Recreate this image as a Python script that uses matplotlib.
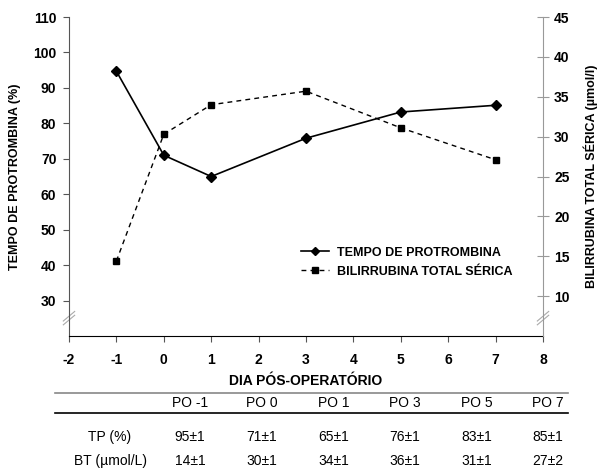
import matplotlib
matplotlib.use("Agg")
import matplotlib.pyplot as plt
from matplotlib.lines import Line2D
from matplotlib.legend_handler import HandlerLine2D

plt.rcParams['font.family'] = ['Liberation Sans', 'DejaVu Sans']
plt.rcParams['axes.unicode_minus'] = False

days = [-1, 0, 1, 3, 5, 7]
tp = [94.7, 71, 65, 75.8, 83.2, 85.1]
bt = [14.4, 30.3, 34.0, 35.7, 31.1, 27.1]

col_labels = ['PO -1', 'PO 0', 'PO 1', 'PO 3', 'PO 5', 'PO 7']
tp_table = ['95±1', '71±1', '65±1', '76±1', '83±1', '85±1']
bt_table = ['14±1', '30±1', '34±1', '36±1', '31±1', '27±2']
row_labels = ['TP (%)', 'BT (µmol/L)']


class LeftMarkerHandler(HandlerLine2D):
    # marker sits at the left end of the legend line
    def get_xdata(self, legend, xdescent, ydescent, width, height, fontsize):
        xdata, _ = super().get_xdata(legend, xdescent, ydescent, width, height, fontsize)
        return xdata, [xdata[0]]


fig = plt.figure(figsize=(6.01, 4.70), dpi=100)
ax = fig.add_axes([0.1148, 0.2851, 0.7887, 0.6787])
ax2 = ax.twinx()

l1, = ax.plot(days, tp, '-', color='black', lw=1.2, marker='D', ms=5)
l2, = ax2.plot(days, bt, '--', color='black', lw=1.0, marker='s', ms=5,
               dashes=(3.5, 3))

ax.set_xlim(-2, 8)
ax.set_ylim(20, 110)
ax2.set_ylim(5, 45)
ax.set_xticks(range(-2, 9))
ax.set_yticks(range(30, 111, 10))
ax2.set_yticks(range(10, 46, 5))

for a in (ax, ax2):
    a.spines['top'].set_visible(False)
ax.spines['right'].set_visible(False)
ax2.spines['left'].set_visible(False)
ax2.spines['bottom'].set_visible(False)
ax2.spines['right'].set_color('#999999')
ax.spines['left'].set_color('#555555')
ax.spines['bottom'].set_color('black')

ax.tick_params(axis='both', labelsize=10, direction='out', length=4, width=0.8,
               colors='#555555', labelcolor='black')
ax.tick_params(axis='x', pad=8)
ax.tick_params(axis='y', pad=5)
ax2.tick_params(axis='y', labelsize=10, direction='inout', length=8, width=0.8,
                colors='#999999', labelcolor='black', pad=4)
for lab in ax.get_xticklabels() + ax.get_yticklabels() + ax2.get_yticklabels():
    lab.set_fontweight('bold')

ax.set_xlabel('DIA PÓS-OPERATÓRIO', fontsize=10, fontweight='bold', labelpad=5)
ax.set_ylabel('TEMPO DE PROTROMBINA (%)', fontsize=9, fontweight='bold', labelpad=9)
ax2.set_ylabel('BILIRRUBINA TOTAL SÉRICA (µmol/l)', fontsize=9, fontweight='bold',
               labelpad=10)

# axis break marks
for a, xpos in ((ax, 0.0), (ax2, 1.0)):
    for dy in (0, 0.012):
        a.plot([xpos - 0.012, xpos + 0.012], [0.035 + dy, 0.065 + dy],
               transform=a.transAxes, color='#aaaaaa', lw=0.8, clip_on=False)

leg = ax.legend([l1, l2], ['TEMPO DE PROTROMBINA', 'BILIRRUBINA TOTAL SÉRICA'],
                loc='upper left', bbox_to_anchor=(0.465, 0.315), frameon=False,
                prop={'size': 9, 'weight': 'bold'}, handlelength=2.3,
                handletextpad=0.6, labelspacing=0.55, numpoints=1,
                handler_map={Line2D: LeftMarkerHandler()})
for h in leg.legend_handles:
    h.set_markersize(4)

# table below the chart
W, H = 601.0, 470.0
def fx(px):
    return px / W
def fy(py):
    return 1 - py / H

fig.add_artist(Line2D([fx(55), fx(568)], [fy(393), fy(393)], color='#888888', lw=1.2))
fig.add_artist(Line2D([fx(55), fx(568)], [fy(413), fy(413)], color='black', lw=1.2))
col_x = [190, 262, 334, 405, 477, 548]
label_x = 110
for x, lab in zip(col_x, col_labels):
    fig.text(fx(x), fy(403), lab, ha='center', va='center', fontsize=10)
for row, vals, y in ((row_labels[0], tp_table, 437), (row_labels[1], bt_table, 461)):
    fig.text(fx(label_x), fy(y), row, ha='center', va='center', fontsize=10)
    for x, v in zip(col_x, vals):
        fig.text(fx(x), fy(y), v, ha='center', va='center', fontsize=10)

fig.savefig('out.png', dpi=100)
